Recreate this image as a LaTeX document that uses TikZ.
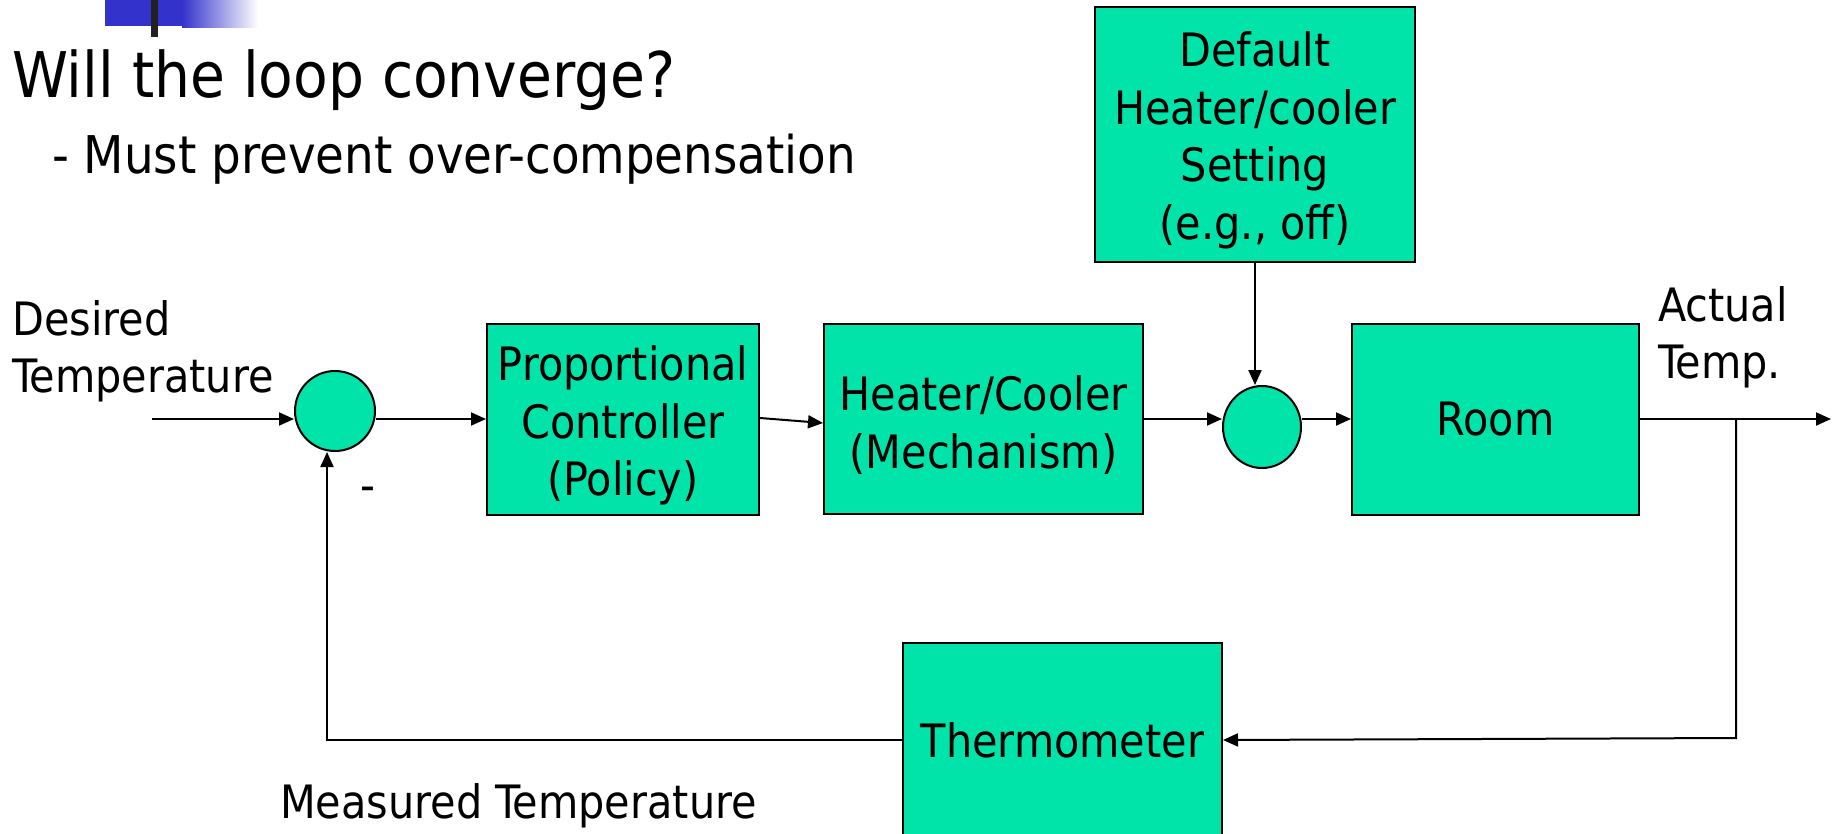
\documentclass[tikz,border=0pt]{standalone}
\usepackage{fontspec}
\setmainfont{DejaVu Sans Condensed}
\usetikzlibrary{arrows.meta,shapes.geometric}
\definecolor{boxgreen}{RGB}{0,228,170}
\definecolor{barblue}{RGB}{51,51,204}
\newcommand\boxfont{\fontsize{46}{57.5}\selectfont}
\newcommand\titlefont{\fontsize{63}{70}\selectfont}
\newcommand\subfont{\fontsize{52}{60}\selectfont}
\newcommand\tstrut{\rule{0pt}{47pt}}
\begin{document}
\begin{tikzpicture}[x=1pt,y=-1pt,
  block/.style={draw=black, line width=2pt, fill=boxgreen, align=center, font=\boxfont, inner sep=0pt},
  sumnode/.style={draw=black, line width=2pt, fill=boxgreen, inner sep=0pt},
  lab/.style={font=\boxfont, inner sep=0pt, align=left},
  arr/.style={line width=2pt, -{Triangle[length=15pt,width=13pt]}},
  conn/.style={line width=2pt}]
\clip (0,0) rectangle (1832,833);
\useasboundingbox (0,0) rectangle (1832,833);
% header bar
\fill[barblue] (105,0) rectangle (183,26);
\shade[left color=barblue, right color=white] (182,0) rectangle (258,27);
\fill[black!87] (151,0) rectangle (158,37);
% title
\node[font=\titlefont, inner sep=0pt, anchor=base west] (title) at (12,97) {Will the loop converge?};
\node[font=\subfont, inner sep=0pt, anchor=base west] (sub) at (52,173) {- Must prevent over-compensation};
% blocks
\node[block, minimum width=320pt, minimum height=255pt] (def) at (1255,134.5) {\tstrut Default\\Heater/cooler\\Setting\\(e.g., off)};
\node[block, minimum width=272pt, minimum height=191pt] (pc) at (623,419.5) {\tstrut Proportional\\Controller\\(Policy)};
\node[block, minimum width=319pt, minimum height=190pt] (hc) at (983.5,419) {\tstrut Heater/Cooler\\(Mechanism)};
\node[block, minimum width=287pt, minimum height=191pt] (room) at (1495.5,419.5) {Room};
\node[block, minimum width=319pt, minimum height=194pt] (therm) at (1062.5,740) {Thermometer};
% summing junctions
\node[sumnode, circle, minimum size=80pt] (s1) at (335,411) {};
\node[sumnode, ellipse, minimum width=78pt, minimum height=82pt] (s2) at (1262,427) {};
% coordinates
\coordinate (mainy) at (0,419);
\coordinate (inp) at (152,419);
\coordinate (out) at (1831,419);
\coordinate (tap) at (1736,419);
\coordinate (tapd) at (1736,738);
\coordinate (fbc) at (327,740);
% connectors
\draw[arr] (inp) -- (inp -| s1.west);
\draw[arr] (s1.east |- mainy) -- (pc.west |- mainy);
\draw[arr] ([yshift=1.5pt]pc.east) -- ([yshift=-4pt]hc.west);
\draw[arr] (hc.east |- mainy) -- (s2.west |- mainy);
\draw[arr] (s2.east |- mainy) -- (room.west |- mainy);
\draw[arr] (def.south) -- (def.south |- s2.north);
\draw[arr] (room.east |- mainy) -- (out);
\draw[arr] (tap) -- (tapd) -- (therm.east);
\draw[arr] (therm.west) -- (fbc) -- (fbc |- s1.south);
% labels
\node[lab, anchor=north west] (desired) at (12,300) {Desired\\Temperature};
\node[lab, anchor=north west] (actual) at (1658,286) {Actual\\Temp.};
\node[font=\boxfont, inner sep=0pt, anchor=base] (minus) at (368,501) {-};
\node[font=\boxfont, inner sep=0pt, anchor=base west] (meas) at (280,818) {Measured Temperature};
\end{tikzpicture}
\end{document}
